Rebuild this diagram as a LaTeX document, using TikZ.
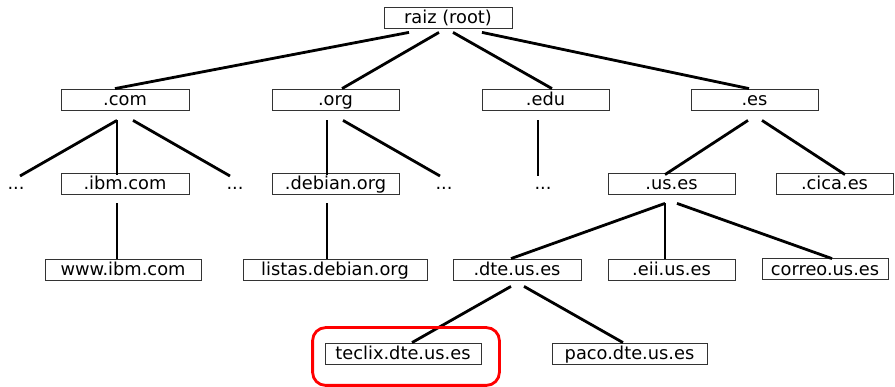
\documentclass[tikz,border=0pt]{standalone}
\usepackage{fontspec}
\setmainfont{DejaVu Sans}
\usetikzlibrary{calc}
\tikzset{
  dom/.style={draw=black!80, line width=0.8pt, inner sep=0pt, minimum height=21pt,
    text height=14pt, text depth=1pt, font=\fontsize{17.8}{21}\selectfont},
  etc/.style={inner sep=0pt, minimum height=21pt,
    text height=14pt, text depth=1pt, font=\fontsize{17.8}{21}\selectfont},
  link/.style={line width=2.8pt, black},
  mark box/.style={draw=red, line width=2.8pt, rounded corners=13pt}
}
\begin{document}
\begin{tikzpicture}[x=1pt, y=-1pt]
\useasboundingbox (0,0) rectangle (895,387);

% domain boxes
\node[dom, minimum width=128pt] (root)   at (448,17.5)   {raiz (root)};
\node[dom, minimum width=128pt] (com)    at (125,99.5)   {.com};
\node[dom, minimum width=127pt] (org)    at (335.5,99.5) {.org};
\node[dom, minimum width=127pt] (edu)    at (545.5,99.5) {.edu};
\node[dom, minimum width=127pt] (es)     at (754.5,99.5) {.es};
\node[dom, minimum width=128pt] (ibm)    at (125,183.5)  {.ibm.com};
\node[dom, minimum width=127pt] (debian) at (335.5,183.5){.debian.org};
\node[dom, minimum width=127pt] (uses)   at (671.5,183.5){.us.es};
\node[dom, minimum width=117pt] (cica)   at (834.5,183.5){.cica.es};
\node[dom, minimum width=156pt] (www)    at (123,269.5)  {www.ibm.com};
\node[dom, minimum width=184pt] (listas) at (335,269.5)  {listas.debian.org};
\node[dom, minimum width=128pt] (dte)    at (517,269.5)  {.dte.us.es};
\node[dom, minimum width=127pt] (eii)    at (671.5,269.5){.eii.us.es};
\node[dom, minimum width=126pt] (correo) at (825,269)    {correo.us.es};
\node[dom, minimum width=156pt] (teclix) at (403,353.5)  {teclix.dte.us.es};
\node[dom, minimum width=155pt] (paco)   at (629.5,353.5){paco.dte.us.es};

% elided subdomains
\node[etc] (d1) at (16,183.5)  {...};
\node[etc] (d2) at (235,183.5) {...};
\node[etc] (d3) at (444,183.5) {...};
\node[etc] (d4) at (543,183.5) {...};

% tree edges
\draw[link] ($(root.south)+(-39,4)$) -- ($(com.north)+(-10,0)$);
\draw[link] ($(root.south)+(-9,4)$)  -- ($(org.north)+(6.5,0)$);
\draw[link] ($(root.south)+(5,4)$)   -- ($(edu.north)+(6.5,0)$);
\draw[link] ($(root.south)+(34,4)$)  -- ($(es.north)+(-5.5,0)$);

\draw[link] ($(com.south)+(-8,10)$) -- ($(d1)+(4,-7.5)$);
\draw[link] ($(com.south)+(-8,10)$) -- ($(ibm.north)+(-8,2)$);
\draw[link] ($(com.south)+(8,10)$)  -- ($(d2)+(-5,-7.5)$);

\draw[link] ($(org.south)+(-8.5,10)$) -- ($(debian.north)+(-8.5,2)$);
\draw[link] ($(org.south)+(7.5,10)$)  -- ($(d3)+(-4,-7.5)$);

\draw[link] ($(edu.south)+(-7.5,10)$) -- ($(d4)+(-5,-7.5)$);

\draw[link] ($(es.south)+(-6.5,10)$) -- ($(uses.north)+(-6.5,2)$);
\draw[link] ($(es.south)+(7.5,10)$)  -- ($(cica.north)+(10.5,2)$);

\draw[link] ($(ibm.south)+(-8,9)$)    -- ($(www.north)+(-6,0)$);
\draw[link] ($(debian.south)+(-8.5,9)$) -- ($(listas.north)+(-8,0)$);

\draw[link] ($(uses.south)+(-6.5,9)$) -- ($(dte.north)+(-6,0)$);
\draw[link] ($(uses.south)+(-6.5,9)$) -- ($(eii.north)+(-6.5,0)$);
\draw[link] ($(uses.south)+(5.5,9)$)  -- ($(correo.north)+(7,0.5)$);

\draw[link] ($(dte.south)+(-6,6)$) -- ($(teclix.north)+(9,0)$);
\draw[link] ($(dte.south)+(7,6)$)  -- ($(paco.north)+(-6.5,0)$);

% highlighted host
\draw[mark box] ($(teclix.north west)+(-12,-15)$) rectangle ($(teclix.south east)+(18,21)$);
\end{tikzpicture}
\end{document}
